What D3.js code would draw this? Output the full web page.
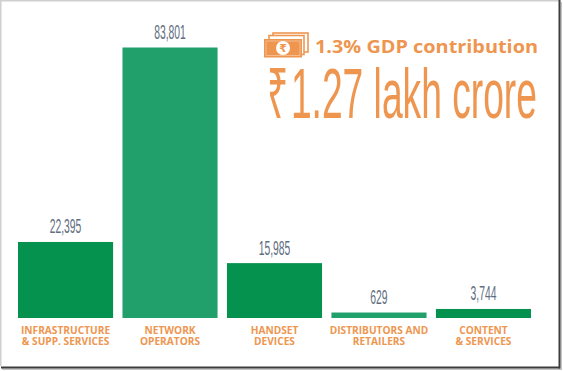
<!DOCTYPE html>
<html lang="en">
<head>
<meta charset="UTF-8">
<title>Telecom GDP contribution</title>
<script src="https://cdn.jsdelivr.net/npm/d3@7"></script>
<style>
    html,body{margin:0;padding:0;background:#fff;}
    svg{display:block;}
    .val{fill:#5f6e80;font-family:"Liberation Sans Narrow","Liberation Sans",sans-serif;text-anchor:middle;}
    .cat{fill:#ee9650;font-family:"Open Sans",sans-serif;font-weight:700;font-size:10.8px;text-anchor:middle;}
    .org{fill:#ee9650;}
</style>
</head>
<body>
<script>
var w = 563, h = 371;
var categories = ['infra','network','handset','distributors','content'];
var catLines = [
    ['INFRASTRUCTURE','& SUPP. SERVICES'],
    ['NETWORK','OPERATORS'],
    ['HANDSET','DEVICES'],
    ['DISTRIBUTORS AND','RETAILERS'],
    ['CONTENT','& SERVICES']
];
// printed numbers
var values = [22395, 83801, 15985, 629, 3744];
// the graphic is not quite to scale, these are the bar lengths as drawn
var drawnValues = [23550, 83801, 17000, 1700, 2800];
var barColors = ['#05924e','#22a06c','#05924e','#22a06c','#05924e'];

var svg = d3.select('body').append('svg').attr('width',w).attr('height',h);

// frame of the screenshot
svg.append('rect').attr('width',w).attr('height',h).attr('fill','#fff');
svg.append('rect').attr('x',0).attr('y',0).attr('width',560).attr('height',1.5).attr('fill','#cfcfcf');
svg.append('rect').attr('x',0).attr('y',0).attr('width',1.5).attr('height',366).attr('fill','#cfcfcf');
svg.append('rect').attr('x',560.5).attr('y',2).attr('width',1.5).attr('height',367).attr('fill','#c4c4c4');
svg.append('rect').attr('x',2).attr('y',368.5).attr('width',560).attr('height',1.5).attr('fill','#c4c4c4');
svg.append('rect').attr('x',558.5).attr('y',0).attr('width',2).attr('height',368.5).attr('fill','#3c3c3c');
svg.append('rect').attr('x',1).attr('y',366.5).attr('width',559).attr('height',2).attr('fill','#3c3c3c');

var x = d3.scaleBand().domain(categories).range([18,531]).paddingInner(0.09);
var y = d3.scaleLinear().domain([0,d3.max(drawnValues)]).range([318,47.5]);

svg.selectAll('rect.bar').data(categories).enter().append('rect')
    .attr('class','bar')
    .attr('x',function(d){return x(d);})
    .attr('y',function(d,i){return y(drawnValues[i]);})
    .attr('width',x.bandwidth())
    .attr('height',function(d,i){return y(0)-y(drawnValues[i]);})
    .attr('fill',function(d,i){return barColors[i];});

svg.selectAll('text.val').data(categories).enter().append('text')
    .attr('class','val')
    .attr('font-size',15)
    .attr('transform',function(d,i){
        return 'translate('+(x(d)+x.bandwidth()/2)+','+(y(drawnValues[i])-8.5)+') scale(0.69,1.3)';
    })
    .text(function(d,i){return d3.format(',')(values[i]);});

// one text per category, second line as a tspan
var cats = svg.selectAll('text.cat').data(categories).enter().append('text')
    .attr('class','cat')
    .attr('transform',function(d){
        return 'translate('+(x(d)+x.bandwidth()/2)+',334.3) scale(0.94,1)';
    });
cats.each(function(d,i){
    var t = d3.select(this);
    catLines[i].forEach(function(s,j){
        t.append('tspan').attr('x',0).attr('dy',j==0?0:10.8).text(s);
    });
});

// headline
svg.append('text').attr('class','org')
    .attr('x',315).attr('y',53)
    .attr('font-family','"Open Sans",sans-serif').attr('font-weight',700).attr('font-size',18)
    .attr('textLength',223).attr('lengthAdjust','spacingAndGlyphs')
    .text('1.3% GDP contribution');

var big = svg.append('text').attr('class','org')
    .attr('font-family','"Liberation Sans Narrow","Liberation Sans",sans-serif').attr('font-size',70);
big.append('tspan').text('₹');
big.append('tspan').attr('dx',5).text('1.27 lakh crore');
big.attr('transform','translate(267,118) scale('+(270/big.node().getBBox().width)+',1)');

// banknote icon
var icon = svg.append('g');
[[273,33],[269,35.5]].forEach(function(p){
    icon.append('rect').attr('x',p[0]).attr('y',p[1]).attr('width',35).attr('height',19)
        .attr('fill','#fff').attr('stroke','#ee9650').attr('stroke-width',1.6);
});
icon.append('rect').attr('x',264).attr('y',39).attr('width',38).attr('height',18.5).attr('fill','#ee9650');
icon.append('rect').attr('x',266).attr('y',41).attr('width',34).attr('height',14.5)
    .attr('fill','none').attr('stroke','#fff').attr('stroke-width',0.6).attr('opacity',0.6);
icon.append('circle').attr('cx',283).attr('cy',48).attr('r',7).attr('fill','#fff');
icon.append('text').attr('class','org').attr('x',283).attr('y',52).attr('text-anchor','middle')
    .attr('font-family','"DejaVu Sans"').attr('font-size',11).attr('font-weight',700).text('₹');
</script>
</body>
</html>
